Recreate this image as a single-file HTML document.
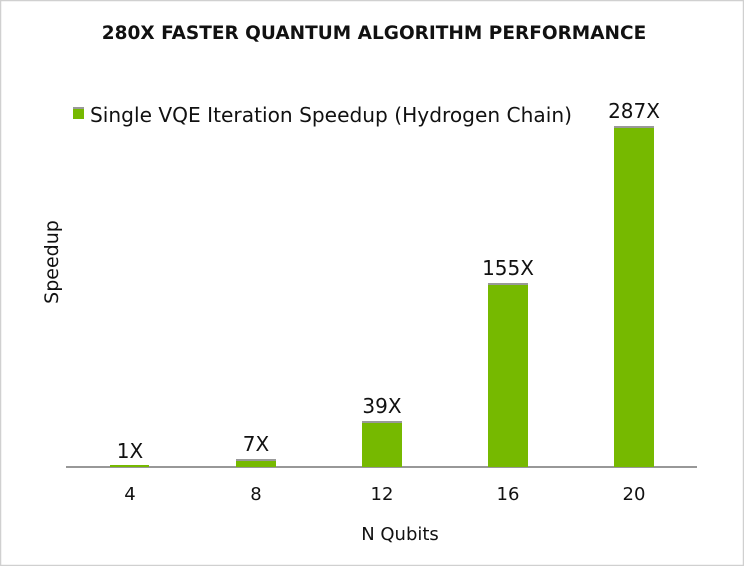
<!DOCTYPE html>
<html><head><style>
body{margin:0;background:#fff}
svg{display:block}
text{font-family:"DejaVu Sans","Liberation Sans",sans-serif;fill:#111}
</style></head><body>
<svg width="744" height="566" xmlns="http://www.w3.org/2000/svg">
<rect x="0.5" y="0.5" width="743" height="565" fill="#fff" stroke="#d0d0d0" stroke-width="1.5"/>
<text x="374" y="39" text-anchor="middle" font-size="18.5" font-weight="bold">280X FASTER QUANTUM ALGORITHM PERFORMANCE</text>
<rect x="73" y="107" width="11" height="12" fill="#76b900"/>
<rect x="73" y="107" width="11" height="2" fill="#999"/>
<text x="90" y="122" font-size="20" textLength="482" lengthAdjust="spacingAndGlyphs">Single VQE Iteration Speedup (Hydrogen Chain)</text>
<text transform="translate(58,262) rotate(-90)" text-anchor="middle" font-size="19">Speedup</text>
<line x1="66" y1="467" x2="697" y2="467" stroke="#777" stroke-width="1.5"/>
<g fill="#76b900">
<rect x="110" y="465" width="39" height="2"/>
<rect x="236" y="459" width="40" height="8"/>
<rect x="362" y="421" width="40" height="46"/>
<rect x="488" y="283" width="40" height="184"/>
<rect x="614" y="126" width="40" height="341"/>
</g>
<g fill="#999">
<rect x="236" y="459" width="40" height="2"/>
<rect x="362" y="421" width="40" height="2"/>
<rect x="488" y="283" width="40" height="2"/>
<rect x="614" y="126" width="40" height="2"/>
</g>
<g font-size="20" text-anchor="middle">
<text x="130" y="458">1X</text>
<text x="256" y="451">7X</text>
<text x="382" y="413">39X</text>
<text x="508" y="275">155X</text>
<text x="634" y="118">287X</text>
</g>
<g font-size="18" text-anchor="middle">
<text x="130" y="500">4</text>
<text x="256" y="500">8</text>
<text x="382" y="500">12</text>
<text x="508" y="500">16</text>
<text x="634" y="500">20</text>
<text x="400" y="540">N Qubits</text>
</g>
</svg>
</body></html>
